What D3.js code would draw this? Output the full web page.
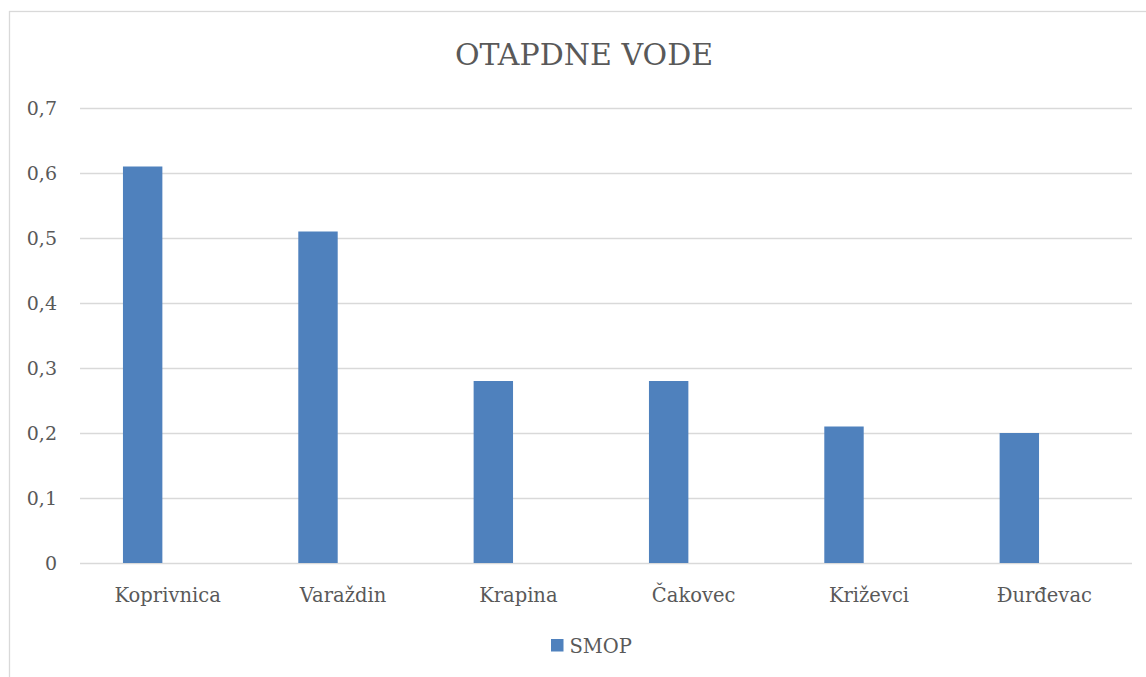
<!DOCTYPE html>
<html>
<head>
<meta charset="utf-8">
<script src="https://cdn.jsdelivr.net/npm/d3@7"></script>
<style>
  html, body { margin: 0; padding: 0; background: #fff; }
  svg { display: block; }
  text { font-family: "DejaVu Serif", "Liberation Serif", serif; fill: #595959; }
</style>
</head>
<body>
<svg id="chart" width="1146" height="677"></svg>
<script>
const title = "OTAPDNE VODE";
const categories = ["Koprivnica", "Varaždin", "Krapina", "Čakovec", "Križevci", "Đurđevac"];
const seriesName = "SMOP";
const smopValues = [0.61, 0.51, 0.28, 0.28, 0.21, 0.20];
const yTicks = [0, 0.1, 0.2, 0.3, 0.4, 0.5, 0.6, 0.7];

const svg = d3.select("#chart");
const W = 1146, H = 677;
const plot = { left: 80, right: 1132, top: 108, bottom: 563 };
const color = "#4f81bd";
const gridColor = "#d9d9d9";

// chart border (extends beyond the visible window on right/bottom)
svg.append("rect")
  .attr("x", 9.5).attr("y", 11.5)
  .attr("width", W + 20).attr("height", H + 20)
  .attr("fill", "#fff").attr("stroke", gridColor).attr("stroke-width", 1.3);

const x0 = d3.scaleBand().domain(categories).range([plot.left, plot.right]).paddingInner(0).paddingOuter(0);
// two slots per category: the data series and an empty reserved slot
const x1 = d3.scaleBand().domain([seriesName, "_reserved"]).range([0, x0.bandwidth()])
  .paddingInner(0.212).paddingOuter(0.859);
const y = d3.scaleLinear().domain([0, 0.7]).range([plot.bottom, plot.top]);

const fmt = v => d3.format(".1f")(v).replace(".", ",");

// gridlines
const yAxis = d3.axisLeft(y).tickValues(yTicks)
  .tickSize(-(plot.right - plot.left)).tickPadding(23)
  .tickFormat(v => v === 0 ? "0" : fmt(v));
const gy = svg.append("g").attr("transform", `translate(${plot.left},0)`).call(yAxis);
gy.select(".domain").remove();
gy.selectAll(".tick line").attr("stroke", gridColor).attr("stroke-width", 1.5);
gy.selectAll(".tick text")
  .attr("font-family", "DejaVu Serif, Liberation Serif, serif")
  .attr("font-size", 19).attr("fill", "#595959").attr("dy", "0.36em");

// bars
svg.append("g").selectAll("rect.bar")
  .data(categories.map((c, i) => ({ c, v: smopValues[i] })))
  .join("rect").attr("class", "bar")
  .attr("x", d => x0(d.c) + x1(seriesName))
  .attr("width", x1.bandwidth())
  .attr("y", d => y(d.v))
  .attr("height", d => y(0) - y(d.v))
  .attr("fill", color);

// category axis labels
const xAxis = d3.axisBottom(x0).tickSize(0).tickPadding(25);
const gx = svg.append("g").attr("transform", `translate(0,${plot.bottom})`).call(xAxis);
gx.select(".domain").remove();
gx.selectAll(".tick text")
  .attr("font-family", "DejaVu Serif, Liberation Serif, serif")
  .attr("font-size", 19.5).attr("fill", "#595959");

// title
svg.append("text")
  .attr("x", 584).attr("y", 65)
  .attr("text-anchor", "middle")
  .attr("font-size", 30)
  .text(title);

// legend
const lg = svg.append("g").attr("transform", "translate(551,639)");
lg.append("rect").attr("width", 12.5).attr("height", 12.5).attr("fill", color);
lg.append("text").attr("x", 18.5).attr("y", 14).attr("font-size", 19.5).text(seriesName);
</script>
</body>
</html>
